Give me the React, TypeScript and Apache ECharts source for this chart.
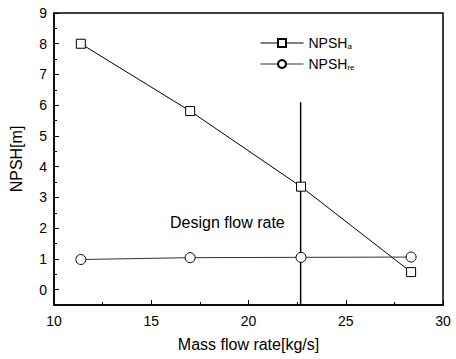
import React, { useEffect, useRef } from "react";
import * as echarts from "echarts";

const massFlow = [11.38, 17.0, 22.7, 28.36];
const npshA = [8.0, 5.81, 3.35, 0.57];
const npshRe = [0.98, 1.04, 1.05, 1.06];
const designLineX = [22.68, 22.68];
const designLineY = [6.1, -0.5];
const xTicks = [10, 15, 20, 25, 30];
const yTicks = [0, 1, 2, 3, 4, 5, 6, 7, 8, 9];

export default function App() {
  const ref = useRef<HTMLDivElement>(null);
  useEffect(() => {
    const chart = echarts.init(ref.current!, null, { renderer: "svg" });
    const font = "Liberation Sans, Arial, sans-serif";
    chart.setOption({
      animation: false,
      backgroundColor: "#fff",
      grid: {
        left: 53,
        right: 13,
        top: 13,
        bottom: 54,
        show: true,
        borderColor: "#000",
        borderWidth: 1.5,
      },
      legend: {
        orient: "vertical",
        left: 260,
        top: 36,
        padding: 0,
        itemWidth: 43,
        itemHeight: 10,
        itemGap: 7,
        lineStyle: { width: 1 },
        data: ["NPSH_a", "NPSH_re"],
        formatter: (name: string) =>
          name === "NPSH_a" ? "NPSH{sub|a}" : "NPSH{sub|re}",
        textStyle: {
          fontFamily: font,
          fontSize: 14,
          color: "#000",
          lineHeight: 14,
          rich: {
            sub: { fontSize: 8, fontFamily: font, color: "#000", lineHeight: 8, verticalAlign: "bottom", padding: [6, 0, 0, 0] },
          },
        },
      },
      xAxis: {
        type: "value",
        min: xTicks[0],
        max: xTicks[xTicks.length - 1],
        interval: 5,
        name: "Mass flow rate[kg/s]",
        nameLocation: "middle",
        nameGap: 31,
        nameTextStyle: { fontFamily: font, fontSize: 16, color: "#000" },
        axisLine: { show: true, onZero: false, lineStyle: { color: "#000", width: 1.5 } },
        axisTick: { inside: true, length: 5, lineStyle: { color: "#000" } },
        minorTick: { show: true, splitNumber: 2, length: 3, lineStyle: { color: "#000" } },
        splitLine: { show: false },
        axisLabel: { fontFamily: font, fontSize: 14, color: "#000", margin: 9 },
      },
      yAxis: [
        {
          type: "value",
          min: -0.5,
          max: 9,
          interval: 1,
          axisLine: { show: true, onZero: false, lineStyle: { color: "#000", width: 1.5 } },
          axisTick: { inside: true, length: 3, lineStyle: { color: "#000" } },
          splitLine: { show: false },
          axisLabel: { show: false },
        },
        {
          type: "value",
          position: "left",
          min: -0.5,
          max: 9,
          name: "NPSH[m]",
          nameLocation: "middle",
          nameGap: 30,
          nameTextStyle: { fontFamily: font, fontSize: 16, color: "#000" },
          axisLine: { show: false, onZero: false },
          axisTick: { show: true, inside: true, length: 5, customValues: yTicks, lineStyle: { color: "#000" } },
          splitLine: { show: false },
          axisLabel: {
            fontFamily: font,
            fontSize: 14,
            color: "#000",
            margin: 7,
            customValues: yTicks,
          },
        },
      ],
      series: [
        {
          name: "NPSH_a",
          type: "line",
          data: massFlow.map((x, i) => [x, npshA[i]]),
          symbol: "rect",
          symbolSize: 9,
          itemStyle: { color: "#fff", borderColor: "#000", borderWidth: 1 },
          lineStyle: { color: "#000", width: 1 },
        },
        {
          name: "NPSH_re",
          type: "line",
          data: massFlow.map((x, i) => [x, npshRe[i]]),
          symbol: "circle",
          symbolSize: 10,
          itemStyle: { color: "#fff", borderColor: "#000", borderWidth: 1 },
          lineStyle: { color: "#333", width: 1 },
        },
        {
          name: "design",
          type: "line",
          data: designLineX.map((x, i) => [x, designLineY[i]]),
          symbol: "none",
          lineStyle: { color: "#000", width: 1.5 },
          z: 1,
        },
      ],
      graphic: [
        {
          type: "text",
          left: 170,
          top: 214,
          style: { text: "Design flow rate", fontFamily: font, fontSize: 16, fill: "#000" },
        },
      ],
    });
    return () => chart.dispose();
  }, []);
  return <div ref={ref} style={{ width: 456, height: 359, position: "absolute", left: 0, top: 0 }} />;
}
